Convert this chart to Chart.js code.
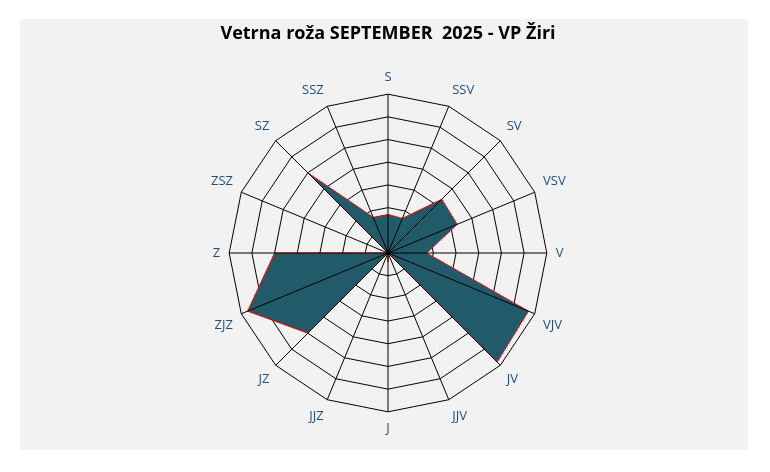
<!DOCTYPE html>
<html lang="sl">
<head>
  <meta charset="UTF-8">
  <title>Vetrna roža SEPTEMBER 2025 - VP Žiri</title>
  <script src="https://cdn.jsdelivr.net/npm/chart.js"></script>
  <style>
    body {
      margin: 0;
      background: #ffffff;
    }
    .okvir {
      position: absolute;
      left: 20px;
      top: 19px;
      width: 728px;
      height: 431px;
      background: #f2f2f2;
    }
  </style>
</head>
<body>
  <div class="okvir">
    <canvas id="roza" width="728" height="431"></canvas>
  </div>

  <script>
    // smeri neba (S = sever, V = vzhod, J = jug, Z = zahod)
    const smeri = ['S', 'SSV', 'SV', 'VSV', 'V', 'VJV', 'JV', 'JJV', 'J', 'JJZ', 'JZ', 'ZJZ', 'Z', 'ZSZ', 'SZ', 'SSZ'];
    // delež ur po smereh (%), odčitano z grafa
    const delezi = [3.4, 3.3, 6.7, 6.6, 3.4, 13.4, 13.6, 0, 0.8, 0, 10.0, 13.4, 10.0, 0, 10.0, 3.4];
    const maksimum = 14;
    const korak = 2;

    // kotne črte nad ploskvijo (kot v Excelu)
    const kotneCrte = {
      id: 'kotneCrte',
      afterDatasetsDraw(chart) {
        const r = chart.scales.r;
        const ctx = chart.ctx;
        ctx.save();
        ctx.strokeStyle = '#000000';
        ctx.lineWidth = 1;
        for (let i = 0; i < smeri.length; i++) {
          const p = r.getPointPosition(i, r.drawingArea);
          ctx.beginPath();
          ctx.moveTo(r.xCenter, r.yCenter);
          ctx.lineTo(p.x, p.y);
          ctx.stroke();
        }
        ctx.restore();
      }
    };

    new Chart(document.getElementById('roza'), {
      type: 'radar',
      data: {
        labels: smeri,
        datasets: [{
          label: 'September 2025',
          data: delezi,
          backgroundColor: '#215a68',
          borderColor: '#ff0000',
          borderWidth: 1,
          pointRadius: 0,
          fill: true
        }]
      },
      options: {
        responsive: false,
        animation: false,
        layout: {
          padding: { left: 8, right: 0, top: 0, bottom: 13 }
        },
        plugins: {
          legend: { display: false },
          tooltip: { enabled: false },
          title: {
            display: true,
            text: 'Vetrna roža SEPTEMBER  2025 - VP Žiri',
            color: '#000000',
            font: { family: 'Open Sans', size: 18, weight: 'bold' },
            padding: { top: 4, bottom: 25 }
          }
        },
        scales: {
          r: {
            min: 0,
            max: maksimum,
            ticks: { display: false, stepSize: korak },
            grid: { color: '#000000', lineWidth: 1 },
            angleLines: { display: false },
            pointLabels: {
              color: '#1f4e79',
              padding: 9,
              font: { family: 'Open Sans', size: 13 }
            }
          }
        }
      },
      plugins: [kotneCrte]
    });
  </script>
</body>
</html>
